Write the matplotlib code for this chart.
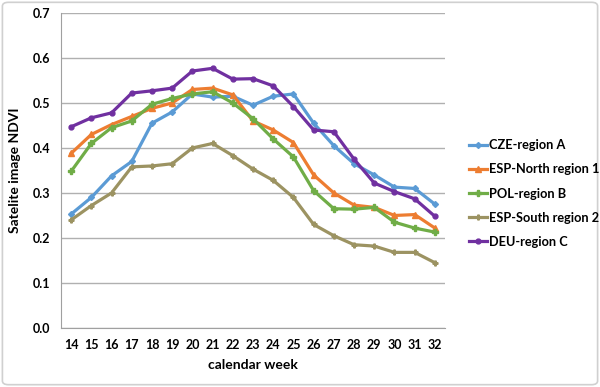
import matplotlib
matplotlib.use('Agg')
import matplotlib.pyplot as plt
from matplotlib.patches import FancyBboxPatch

weeks = list(range(14, 33))
cze = [0.253, 0.290, 0.338, 0.370, 0.455, 0.480, 0.520, 0.513, 0.515, 0.495,
       0.515, 0.520, 0.455, 0.405, 0.365, 0.340, 0.313, 0.310, 0.275]
esp_north = [0.388, 0.430, 0.452, 0.470, 0.488, 0.500, 0.530, 0.533, 0.518, 0.460,
             0.440, 0.412, 0.340, 0.300, 0.273, 0.268, 0.250, 0.252, 0.222]
pol = [0.348, 0.410, 0.445, 0.460, 0.497, 0.510, 0.520, 0.525, 0.500, 0.465,
       0.420, 0.380, 0.305, 0.265, 0.264, 0.268, 0.235, 0.222, 0.213]
esp_south = [0.240, 0.272, 0.300, 0.358, 0.360, 0.365, 0.400, 0.410, 0.383, 0.353,
             0.328, 0.290, 0.230, 0.205, 0.185, 0.182, 0.168, 0.168, 0.145]
deu = [0.447, 0.467, 0.478, 0.522, 0.527, 0.533, 0.571, 0.577, 0.553, 0.554,
       0.538, 0.492, 0.440, 0.436, 0.375, 0.322, 0.303, 0.287, 0.248]

series = [
    ("CZE-region A", cze, '#5b9bd5', 'D', 3),
    ("ESP-North region 1", esp_north, '#ed7d31', '^', 5),
    ("POL-region B", pol, '#70ad47', 'P', 4),
    ("ESP-South region 2", esp_south, '#9c9362', 'P', 3.5),
    ("DEU-region C", deu, '#7030a0', 'o', 3.5),
]

plt.rcParams['font.family'] = ['Lato', 'DejaVu Sans']
fig = plt.figure(figsize=(6, 3.87), dpi=100)
fig.patches.append(FancyBboxPatch((0.004, 0.006), 0.992, 0.988,
                                  boxstyle="round,pad=0,rounding_size=0.01",
                                  transform=fig.transFigure, fc='white',
                                  ec='#d0d0d0', lw=1.2, zorder=-10))
ax = fig.add_axes([0.1017, 0.1525, 0.64, 0.814])

for name, vals, col, mk, ms in series:
    ax.plot(weeks, vals, color=col, lw=2.3, marker=mk, ms=ms, label=name)

ax.set_xlim(13.5, 32.5)
ax.set_ylim(0, 0.7)
ax.set_xticks(weeks)
ax.set_yticks([i / 10 for i in range(8)])
ax.set_yticklabels(['%.1f' % (i / 10) for i in range(8)])
ax.grid(axis='y', color='#b0b0b0', lw=1)
ax.set_axisbelow(True)
for s in ['top', 'right']:
    ax.spines[s].set_visible(False)
for s in ['left', 'bottom']:
    ax.spines[s].set_color('#a0a0a0')
ax.tick_params(length=0, labelsize=9, pad=8)
for lab in ax.get_xticklabels() + ax.get_yticklabels():
    lab.set_fontweight('bold')
ax.set_xlabel('calendar week', fontsize=10, fontweight='bold', labelpad=6)
ax.set_ylabel('Satelite image NDVI', fontsize=10, fontweight='bold', labelpad=8)

ax.legend(loc='center left', bbox_to_anchor=(0.782, 0.5),
          bbox_transform=fig.transFigure, frameon=False, borderaxespad=0,
          borderpad=0, prop={'size': 9.2, 'weight': 'bold'}, handlelength=1.4,
          labelspacing=0.95, handletextpad=0.15)

fig.savefig('out.png', dpi=100)
